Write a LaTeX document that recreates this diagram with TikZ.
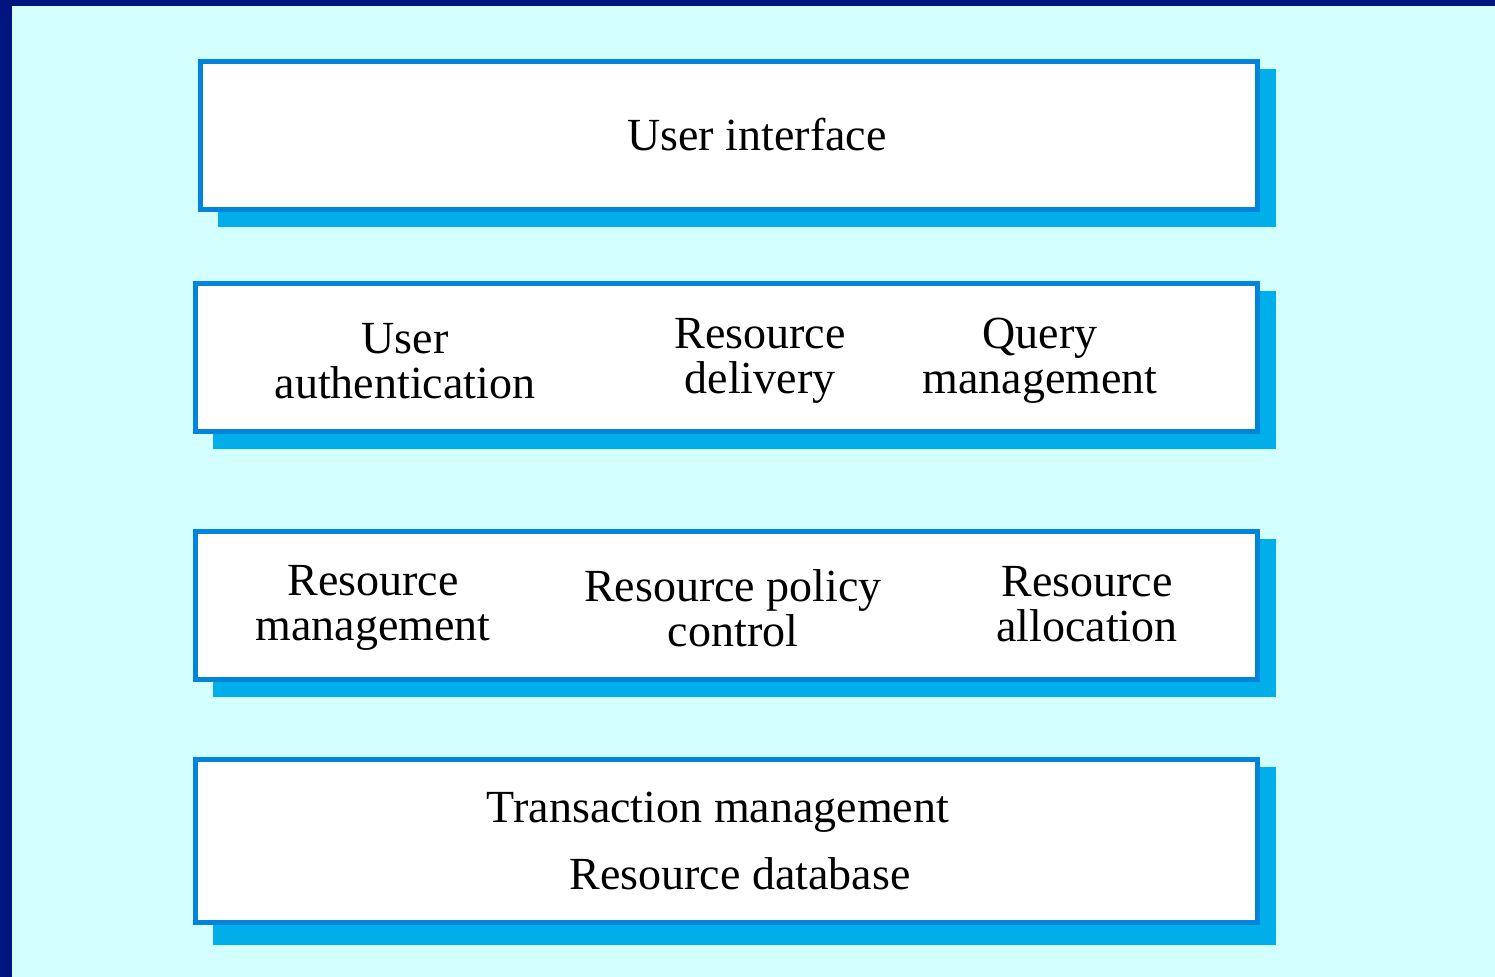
\documentclass[tikz,border=0pt]{standalone}
\usepackage{fontspec}
\setmainfont{Liberation Serif}
\definecolor{navyc}{HTML}{001580}
\definecolor{bgc}{HTML}{D4FFFF}
\definecolor{edgec}{HTML}{0284DC}
\definecolor{shadc}{HTML}{00AEEA}
\pgfdeclarelayer{bglayer}
\pgfdeclarelayer{shadlayer}
\pgfsetlayers{bglayer,shadlayer,main}
\begin{document}
\begin{tikzpicture}[x=0.5pt,y=-0.5pt,
  layer/.style={draw=edgec, line width=2.5pt, fill=white, inner sep=0pt},
  shadowfill/.style={fill=shadc},
  lbl/.style={font=\fontsize{23}{22.5}\selectfont, align=center, inner sep=0pt, text=black}]
\useasboundingbox (0,0) rectangle (1495,977);
\begin{pgfonlayer}{bglayer}
  \fill[navyc] (0,0) rectangle (1495,977);
  \fill[bgc] (12,6) rectangle (1495,977);
\end{pgfonlayer}

% layer boxes
\node[layer, minimum width=528.5pt, minimum height=74pt] (ui) at (729,135.5) {};
\node[layer, minimum width=531pt, minimum height=74pt] (svc) at (726.5,357.5) {};
\node[layer, minimum width=531pt, minimum height=74pt] (res) at (726.5,605.5) {};
\node[layer, minimum width=531pt, minimum height=81.5pt] (db) at (726.5,841) {};

% shadows
\begin{pgfonlayer}{shadlayer}
  \foreach \b/\d in {ui/15,svc/15,res/15,db/20}
    \fill[shadowfill] ([shift={(20,10)}]\b.north west) rectangle ([shift={(16,\d)}]\b.south east);
\end{pgfonlayer}

% labels
\node[lbl] (t1) at (757,135) {User interface};
\node[lbl] (t2) at (405,361) {User\\authentication};
\node[lbl] (t3) at (760,361) {Resource\\delivery};
\node[lbl] (t4) at (1040,361) {Query\\management};
\node[lbl] (t5) at (373,608) {Resource\\management};
\node[lbl] (t6) at (733,608) {Resource policy\\control};
\node[lbl] (t7) at (1087,604) {Resource\\allocation};
\node[lbl] (t8) at (718,812) {Transaction management};
\node[lbl] (t9) at (740,874) {Resource database};
\end{tikzpicture}
\end{document}
